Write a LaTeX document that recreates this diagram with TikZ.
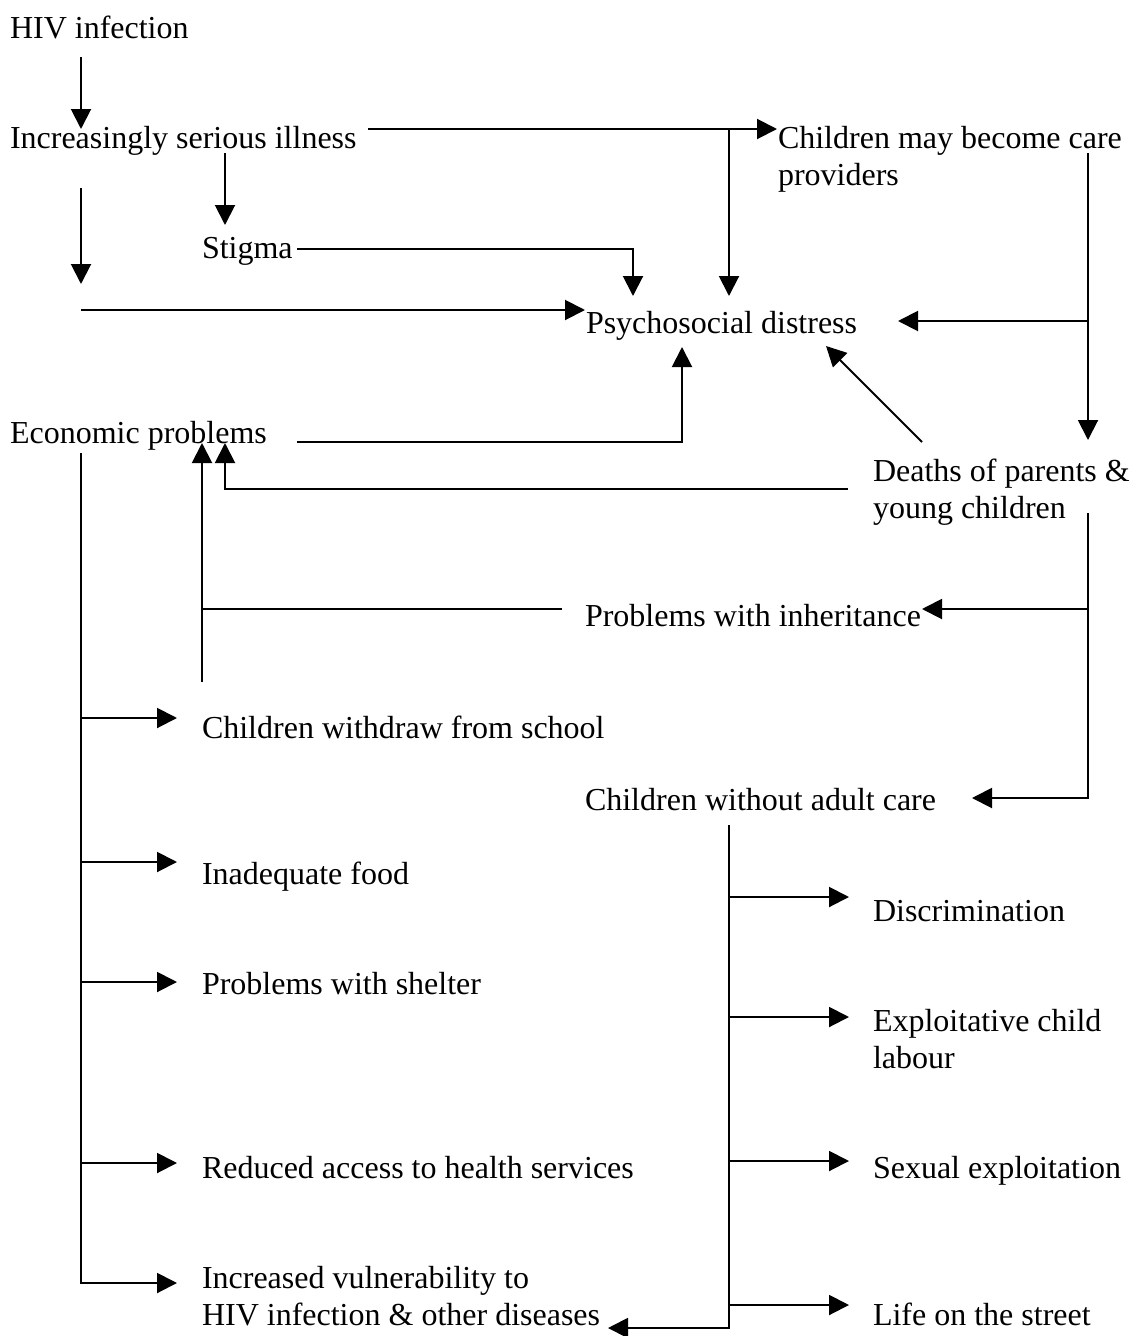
\documentclass[tikz,border=0pt]{standalone}
\usepackage{fontspec}
\setmainfont{Liberation Serif}
\usetikzlibrary{arrows.meta}
\begin{document}
\begin{tikzpicture}[x=1pt,y=-1pt,
  lbl/.style={anchor=base west,inner sep=0pt,outer sep=0pt,
    font=\fontsize{32}{37}\selectfont},
  wire/.style={line width=2pt,line join=miter},
  arr/.style={wire,-{Triangle[length=20pt,width=20pt]}}]
\useasboundingbox (0,0) rectangle (1133,1336);
\newcommand{\twolines}[2]{\begin{tabular}[t]{@{}l@{}}#1\\#2\end{tabular}}

% labels
\node[lbl] (hiv)   at (10,38)   {HIV infection};
\node[lbl] (ill)   at (10,148)  {Increasingly serious illness};
\node[lbl] (stig)  at (202,258) {Stigma};
\node[lbl] (care)  at (778,148) {\twolines{Children may become care}{providers}};
\node[lbl] (psy)   at (586,333) {Psychosocial distress};
\node[lbl] (eco)   at (10,443)  {Economic problems};
\node[lbl] (death) at (873,481) {\twolines{Deaths of parents \&}{young children}};
\node[lbl] (inh)   at (585,626) {Problems with inheritance};
\node[lbl] (wd)    at (202,738) {Children withdraw from school};
\node[lbl] (wac)   at (585,810) {Children without adult care};
\node[lbl] (food)  at (202,884) {Inadequate food};
\node[lbl] (disc)  at (873,921) {Discrimination};
\node[lbl] (shel)  at (202,994) {Problems with shelter};
\node[lbl] (expl)  at (873,1031) {\twolines{Exploitative child}{labour}};
\node[lbl] (red)   at (202,1178) {Reduced access to health services};
\node[lbl] (sex)   at (873,1178) {Sexual exploitation};
\node[lbl] (vul)   at (202,1288) {\twolines{Increased vulnerability to}{HIV infection \& other diseases}};
\node[lbl] (life)  at (873,1325) {Life on the street};

% connector end points
\coordinate (hivS) at (81,57);    \coordinate (illN) at (81,129);
\coordinate (illS) at (81,188);   \coordinate (illD) at (81,284);
\coordinate (illS2) at (225,153); \coordinate (stigN) at (225,225);
\coordinate (psyW0) at (81,310);  \coordinate (psyW) at (585,310);
\coordinate (illE) at (368,129);  \coordinate (careW) at (777,129);
\coordinate (jTop) at (729,129);  \coordinate (psyN2) at (729,296);
\coordinate (stigE) at (297,249); \coordinate (psyN1) at (633,296);
\coordinate (careS) at (1088,153); \coordinate (deathN) at (1088,440);
\coordinate (jRight) at (1088,321); \coordinate (psyE) at (898,321);
\coordinate (deathNW) at (922,442); \coordinate (psySE) at (826,346);
\coordinate (ecoE) at (297,442);  \coordinate (psyS) at (682,347);
\coordinate (deathW) at (848,489); \coordinate (ecoS2) at (225,443);
\coordinate (wdN) at (202,682);   \coordinate (ecoS1) at (202,443);
\coordinate (inhW) at (562,609);  \coordinate (jInh) at (202,609);
\coordinate (deathS) at (1088,513); \coordinate (wacE) at (972,798);
\coordinate (jDeath) at (1088,609); \coordinate (inhE) at (922,609);
\coordinate (ecoS) at (81,453);   \coordinate (vulW) at (177,1283);
\coordinate (wacS) at (729,825);  \coordinate (vulE) at (608,1328);

% HIV infection and illness
\draw[arr] (hivS) -- (illN);
\draw[arr] (illS) -- (illD);
\draw[arr] (illS2) -- (stigN);
\draw[arr] (psyW0) -- (psyW);
\draw[arr] (illE) -- (careW);
\draw[arr] (jTop) -- (psyN2);
\draw[arr] (stigE) -| (psyN1);

% care providers and deaths
\draw[arr] (careS) -- (deathN);
\draw[arr] (jRight) -- (psyE);
\draw[arr] (deathNW) -- (psySE);
\draw[arr] (ecoE) -| (psyS);
\draw[arr] (deathW) -| (ecoS2);
\draw[arr] (wdN) -- (ecoS1);
\draw[wire] (inhW) -- (jInh);
\draw[arr] (deathS) |- (wacE);
\draw[arr] (jDeath) -- (inhE);

% consequences of economic problems
\draw[arr] (ecoS) |- (vulW);
\foreach \y in {718,862,982,1163}
  \draw[arr] (81,\y) -- (177,\y);

% consequences of losing adult care
\draw[arr] (wacS) |- (vulE);
\foreach \y in {897,1017,1161,1305}
  \draw[arr] (729,\y) -- (849,\y);
\end{tikzpicture}
\end{document}
